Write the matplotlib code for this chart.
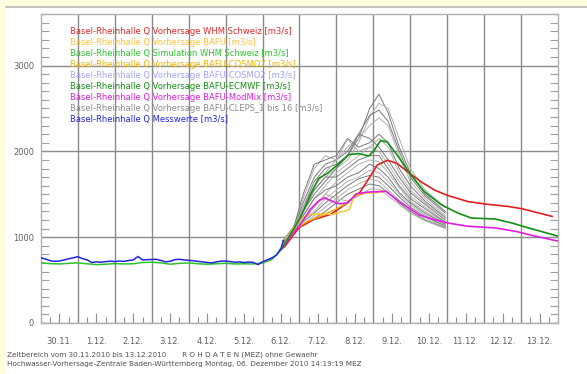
import matplotlib
matplotlib.use('Agg')
from matplotlib import pyplot as plt
import numpy as np

# measured discharge (Messwerte), days after 30.11. 00:00
mess_t = [0.0, 0.125, 0.25, 0.375, 0.5, 0.625, 0.75, 0.875, 1.0, 1.125, 1.25, 1.375,
          1.5, 1.625, 1.75, 1.875, 2.0, 2.125, 2.25, 2.375, 2.5, 2.625, 2.75, 2.875,
          3.0, 3.125, 3.25, 3.375, 3.5, 3.625, 3.75, 3.875, 4.0, 4.125, 4.25, 4.375,
          4.5, 4.625, 4.75, 4.875, 5.0, 5.125, 5.25, 5.375, 5.5, 5.625, 5.75, 5.875,
          6.0, 6.125, 6.25, 6.375, 6.5, 6.5625]
mess_q = [760, 745, 725, 718, 722, 735, 748, 760, 772, 750, 735, 705,
          712, 708, 715, 720, 716, 722, 718, 728, 735, 775, 735, 738,
          740, 742, 728, 712, 720, 738, 742, 735, 730, 725, 718, 712,
          705, 700, 712, 720, 722, 715, 708, 712, 705, 710, 706, 680,
          712, 735, 758, 790, 870, 960]

# simulation WHM Schweiz
sim_t = [0, 0.25, 0.5, 0.75, 1.0, 1.25, 1.5, 1.75, 2.0, 2.25, 2.5, 2.75, 3.0, 3.25,
         3.5, 3.75, 4.0, 4.25, 4.5, 4.75, 5.0, 5.25, 5.5, 5.75, 6.0, 6.25, 6.5]
sim_q = [700, 692, 688, 695, 700, 690, 680, 685, 692, 688, 690, 705, 708, 700,
         685, 695, 700, 690, 685, 690, 695, 688, 690, 688, 700, 740, 850]

# Vorhersage WHM Schweiz
whm_t = [6.47, 6.6, 6.84, 7.0, 7.38, 7.84, 8.29, 8.65, 8.88, 9.1, 9.38, 9.65, 9.93,
         10.29, 10.65, 11.02, 11.56, 12.04, 12.65, 13.04, 13.84]
whm_q = [850, 890, 1030, 1115, 1204, 1265, 1396, 1530, 1685, 1838, 1896, 1858, 1761,
         1646, 1550, 1485, 1415, 1385, 1358, 1330, 1242]

# Vorhersage BAFU-ECMWF
ecmwf_t = [6.5, 6.75, 7.02, 7.29, 7.52, 7.75, 8.02, 8.34, 8.6, 8.88, 9.02, 9.2, 9.38,
           9.65, 10.02, 10.38, 10.84, 11.29, 11.65, 12.29, 12.75, 13.2, 14.0]
ecmwf_q = [855, 1030, 1223, 1492, 1685, 1742, 1838, 1962, 1973, 1946, 2011, 2127, 2108,
           1954, 1723, 1531, 1377, 1281, 1223, 1212, 1165, 1108, 1012]

# Vorhersage BAFU-ModMix
modmix_t = [6.5, 6.75, 7.02, 7.3, 7.54, 7.68, 7.93, 8.08, 8.3, 8.54, 8.84, 9.34,
            9.75, 10.24, 10.6, 11.02, 11.56, 12.29, 12.84, 13.38, 14.0]
modmix_q = [855, 1000, 1146, 1330, 1430, 1458, 1410, 1388, 1400, 1504, 1525, 1534,
            1400, 1260, 1210, 1165, 1127, 1108, 1069, 1012, 954]

# Vorhersage BAFU
bafu_t = [6.5, 6.84, 7.1, 7.27, 7.6, 7.9, 8.35, 8.49, 8.8, 9.0, 9.24]
bafu_q = [855, 1110, 1230, 1262, 1270, 1265, 1320, 1497, 1515, 1520, 1530]

# Vorhersage BAFU-COSMO7
cosmo7_t = [6.5, 6.84, 7.2, 7.6, 8.0, 8.3, 8.5, 8.8, 9.1, 9.25]
cosmo7_q = [855, 1080, 1180, 1250, 1330, 1400, 1480, 1515, 1520, 1545]

# Vorhersage BAFU-COSMO2
cosmo2_t = [6.5, 6.7, 6.9, 7.1]
cosmo2_q = [855, 990, 1110, 1200]

# Vorhersage BAFU-CLEPS 1 bis 16
cleps_t = [6.55, 6.85, 7.1, 7.4, 7.7, 8.0, 8.3, 8.6, 8.9, 9.15, 9.4, 9.7, 10.0, 10.4, 10.95]
cleps_q = [
    [950, 1120, 1350, 1650, 1800, 1850, 1950, 2150, 2500, 2665, 2450, 2050, 1750, 1500, 1300],
    [950, 1110, 1300, 1550, 1700, 1800, 1900, 2100, 2400, 2560, 2500, 2150, 1800, 1550, 1350],
    [940, 1120, 1400, 1700, 1850, 1900, 2000, 2200, 2420, 2480, 2350, 2000, 1700, 1480, 1280],
    [950, 1130, 1450, 1800, 1950, 1900, 2050, 2150, 2300, 2390, 2300, 1950, 1650, 1450, 1250],
    [960, 1120, 1500, 1850, 1900, 1950, 2150, 2050, 2100, 2200, 2100, 1800, 1600, 1420, 1230],
    [950, 1110, 1350, 1600, 1750, 1900, 2140, 2000, 2050, 2150, 2050, 1750, 1550, 1400, 1220],
    [940, 1100, 1300, 1500, 1650, 1800, 1950, 2200, 2150, 2050, 1900, 1700, 1520, 1380, 1200],
    [950, 1110, 1250, 1450, 1600, 1750, 1850, 1950, 2050, 2000, 1850, 1650, 1480, 1350, 1180],
    [940, 1100, 1300, 1550, 1700, 1700, 1800, 1900, 1950, 1950, 1800, 1600, 1450, 1330, 1170],
    [950, 1100, 1200, 1350, 1500, 1650, 1750, 1850, 1900, 1880, 1750, 1580, 1420, 1300, 1160],
    [940, 1090, 1250, 1450, 1550, 1600, 1700, 1750, 1850, 1800, 1700, 1520, 1400, 1280, 1150],
    [950, 1100, 1200, 1300, 1450, 1550, 1650, 1700, 1780, 1750, 1650, 1500, 1380, 1260, 1140],
    [940, 1090, 1180, 1280, 1400, 1500, 1600, 1680, 1720, 1700, 1600, 1470, 1350, 1240, 1130],
    [950, 1090, 1150, 1250, 1350, 1450, 1550, 1620, 1680, 1650, 1550, 1430, 1320, 1220, 1120],
    [940, 1080, 1140, 1220, 1300, 1400, 1500, 1560, 1620, 1600, 1520, 1400, 1300, 1200, 1110],
    [950, 1090, 1200, 1350, 1500, 1450, 1420, 1480, 1560, 1560, 1480, 1380, 1280, 1190, 1100],
]

day_labels = ['30.11.', '1.12.', '2.12.', '3.12.', '4.12.', '5.12.', '6.12.',
              '7.12.', '8.12.', '9.12.', '10.12.', '11.12.', '12.12.', '13.12.']

legend_texts = [
    ('Basel-Rheinhalle Q Vorhersage WHM Schweiz [m3/s]', '#e02828'),
    ('Basel-Rheinhalle Q Vorhersage BAFU [m3/s]', '#ffc23a'),
    ('Basel-Rheinhalle Q Simulation WHM Schweiz [m3/s]', '#2cc42c'),
    ('Basel-Rheinhalle Q Vorhersage BAFU-COSMO7 [m3/s]', '#f2b400'),
    ('Basel-Rheinhalle Q Vorhersage BAFU-COSMO2 [m3/s]', '#a4a4ff'),
    ('Basel-Rheinhalle Q Vorhersage BAFU-ECMWF [m3/s]', '#139013'),
    ('Basel-Rheinhalle Q Vorhersage BAFU-ModMix [m3/s]', '#e01ee0'),
    ('Basel-Rheinhalle Q Vorhersage BAFU-CLEPS_1 bis 16 [m3/s]', '#8c8c8c'),
    ('Basel-Rheinhalle Q Messwerte [m3/s]', '#2424e0'),
]

W, H = 587, 374
fig = plt.figure(figsize=(W / 100, H / 100), dpi=100)
fig.patch.set_facecolor('white')

# yellow page strip (top and left) with grey line under top strip
fig.patches.append(plt.Rectangle((0, 1 - 6 / H), 1, 6 / H, transform=fig.transFigure,
                                 facecolor='#ffffe0', edgecolor='none', zorder=0))
fig.patches.append(plt.Rectangle((0, 0), 6 / W, 1, transform=fig.transFigure,
                                 facecolor='#ffffe0', edgecolor='none', zorder=0))
fig.lines.append(plt.Line2D([6 / W, 1], [1 - 6.5 / H, 1 - 6.5 / H], transform=fig.transFigure,
                            color='#b8b8b0', linewidth=1.2))

ax = fig.add_axes([41 / W, 51 / H, 517 / W, 309 / H])
ax.set_xlim(0, 14)
ax.set_ylim(0, 3600)

grid_col = '#8a8a8a'
for s in ax.spines.values():
    s.set_color('#b0b0b0')
    s.set_linewidth(1.0)

ax.set_xticks(np.arange(1, 14))
ax.set_xticklabels([])
ax.set_xticks(np.arange(0, 14.01, 0.25), minor=True)
ax.tick_params(axis='x', which='major', length=0)
ax.tick_params(axis='x', which='minor', direction='in', length=4, color='#909090', width=0.8)
ax.grid(axis='x', which='major', color=grid_col, linewidth=1.0)

ax.set_yticks([0, 1000, 2000, 3000])
ax.set_yticks(np.arange(0, 3601, 100), minor=True)
ax.tick_params(axis='y', which='major', direction='in', length=8, color='#909090', width=0.8,
               labelsize=6, labelcolor='#606060', right=True, pad=5)
ax.tick_params(axis='y', which='minor', direction='in', length=6, color='#a0a0a0', width=0.8,
               right=True)
ax.grid(axis='y', which='major', color=grid_col, linewidth=1.0)

# noon ticks with day labels
sec = ax.secondary_xaxis('bottom')
sec.set_xticks(np.arange(14) + 0.5)
sec.set_xticklabels(day_labels)
sec.tick_params(direction='in', length=7, color='#909090', width=0.8,
                labelsize=6, labelcolor='#606060', pad=10)
sec.spines['bottom'].set_visible(False)

# ensemble
for i, q in enumerate(cleps_q):
    ax.plot(cleps_t, q, color='#7a7a7a' if i % 2 == 0 else '#b0b0b0', linewidth=0.7, zorder=2)

ax.plot(cosmo2_t, cosmo2_q, color='#a4a4ff', linewidth=1.1, zorder=3)
ax.plot(whm_t, whm_q, color='#e02020', linewidth=1.2, zorder=4)
ax.plot(cosmo7_t, cosmo7_q, color='#f0a800', linewidth=1.0, zorder=4)
ax.plot(bafu_t, bafu_q, color='#ffc23a', linewidth=1.1, zorder=4)
ax.plot(modmix_t, modmix_q, color='#e01ee0', linewidth=1.2, zorder=4)
ax.plot(ecmwf_t, ecmwf_q, color='#139013', linewidth=1.2, zorder=4)
ax.plot(sim_t, sim_q, color='#2cc42c', linewidth=1.1, zorder=5)
ax.plot(mess_t, mess_q, color='#2424e0', linewidth=1.1, zorder=6)

# legend text block
for i, (txt, col) in enumerate(legend_texts):
    y = 31 + i * 11.1
    fig.text(70 / W, 1 - y / H, txt, color=col, fontsize=6, va='center', ha='left')

fig.text(7 / W, 1 - 355 / H,
         'Zeitbereich vom 30.11.2010 bis 13.12.2010       R O H D A T E N (MEZ) ohne Gewaehr',
         fontsize=5.2, color='#505050', va='center', ha='left')
fig.text(7 / W, 1 - 364 / H,
         'Hochwasser-Vorhersage-Zentrale Baden-Württemberg Montag, 06. Dezember 2010 14:19:19 MEZ',
         fontsize=5.2, color='#505050', va='center', ha='left')

fig.savefig('out.png', dpi=100)
